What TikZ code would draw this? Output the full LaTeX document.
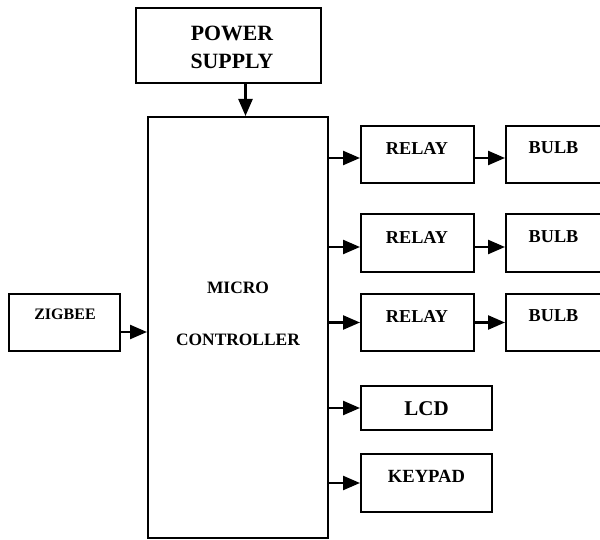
\documentclass[tikz,border=0pt]{standalone}
\usepackage{fontspec}
\setmainfont{Liberation Serif}
\usetikzlibrary{arrows.meta}
\begin{document}
\begin{tikzpicture}[x=1pt,y=-1pt,
  blk/.style={draw,line width=2pt,inner sep=0pt},
  lbl/.style={inner sep=0pt,font=\bfseries\fontsize{#1}{#1}\selectfont},
  lbl/.default=18.2,
  arr/.style={line width=2.4pt,-{Triangle[length=17pt,width=14pt]}}]
\useasboundingbox (0,0) rectangle (600,540);
\clip (0,0) rectangle (600,540);
% boxes
\node[blk,minimum width=185pt,minimum height=75pt] (power) at (228.5,45.5) {};
\node[blk,minimum width=180pt,minimum height=421pt] (micro) at (238,327.5) {};
\node[blk,minimum width=113pt,minimum height=57pt] (relay1) at (417.5,154.5) {};
\node[blk,minimum width=113pt,minimum height=58pt] (relay2) at (417.5,243) {};
\node[blk,minimum width=113pt,minimum height=57pt] (relay3) at (417.5,322.5) {};
\node[blk,minimum width=98pt,minimum height=57pt] (bulb1) at (555,154.5) {};
\node[blk,minimum width=98pt,minimum height=58pt] (bulb2) at (555,243) {};
\node[blk,minimum width=98pt,minimum height=57pt] (bulb3) at (555,322.5) {};
\node[blk,minimum width=131pt,minimum height=44pt] (lcd) at (426.5,408) {};
\node[blk,minimum width=131pt,minimum height=58pt] (keypad) at (426.5,483) {};
\node[blk,minimum width=111pt,minimum height=57pt] (zigbee) at (64.5,322.5) {};
% texts
\node[lbl=21.8] (powert1) at (232,33) {POWER};
\node[lbl=21.8] (powert2) at (232,61) {SUPPLY};
\node[lbl=17.4] (microt1) at (238,288) {MICRO};
\node[lbl=17.4] (microt2) at (238,339.5) {CONTROLLER};
\node[lbl] (relay1t) at (417,148) {RELAY};
\node[lbl] (relay2t) at (417,237) {RELAY};
\node[lbl] (relay3t) at (417,316) {RELAY};
\node[lbl] (bulb1t) at (553.5,148) {BULB};
\node[lbl] (bulb2t) at (553.5,237) {BULB};
\node[lbl] (bulb3t) at (553.5,316) {BULB};
\node[lbl=21] (lcdt) at (426.5,409) {LCD};
\node[lbl=18.6] (keypadt) at (426.5,476.5) {KEYPAD};
\node[lbl=16] (zigbeet) at (65,314.5) {ZIGBEE};
% connectors
\draw[arr] ([xshift=17pt]power.south) -- ([xshift=17pt]power.south |- micro.north);
\draw[arr] ([yshift=-9.5pt]zigbee.east) -- ([yshift=-9.5pt]zigbee.east -| micro.west);
\draw[arr] ([yshift=-3.5pt]relay1.west -| micro.east) -- ([yshift=-3.5pt]relay1.west);
\draw[arr] ([yshift=-4pt]relay2.west -| micro.east) -- ([yshift=-4pt]relay2.west);
\draw[arr] (relay3.west -| micro.east) -- (relay3.west);
\draw[arr] (lcd.west -| micro.east) -- (lcd.west);
\draw[arr] (keypad.west -| micro.east) -- (keypad.west);
\draw[arr] ([yshift=-3.5pt]relay1.east) -- ([yshift=-3.5pt]relay1.east -| bulb1.west);
\draw[arr] ([yshift=-4pt]relay2.east) -- ([yshift=-4pt]relay2.east -| bulb2.west);
\draw[arr] (relay3.east) -- (relay3.east -| bulb3.west);
\end{tikzpicture}
\end{document}
